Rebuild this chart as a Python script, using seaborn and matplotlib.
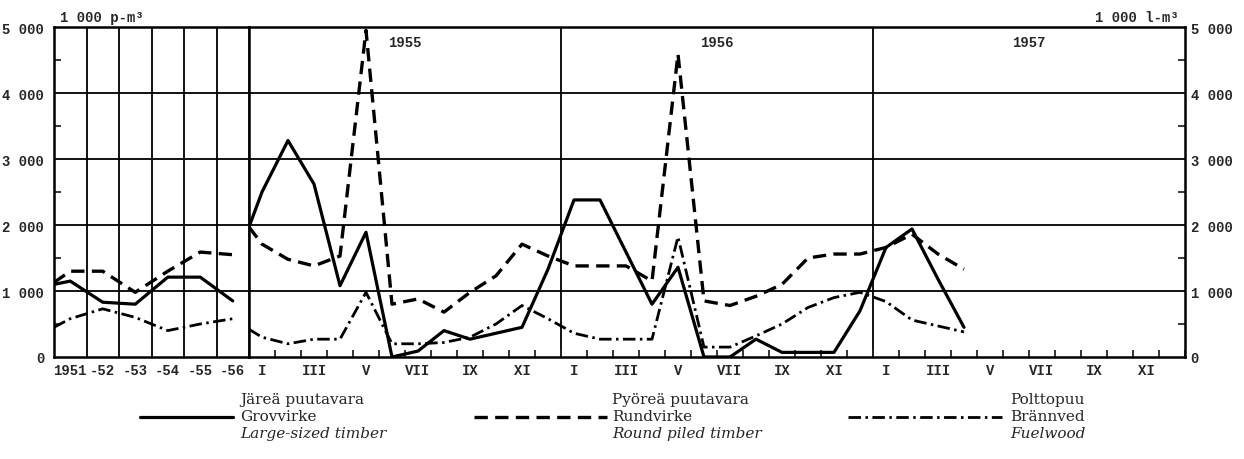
import numpy as np
import pandas as pd
import seaborn as sns
import matplotlib.pyplot as plt
from matplotlib.lines import Line2D
from matplotlib.ticker import FixedLocator, MultipleLocator

sns.set_theme(style="white")
plt.rcParams['font.family'] = ['Liberation Mono', 'DejaVu Sans Mono']

# annual values 1951-1956 (first value = where the line starts at the left edge)
year_labels = ['1951', '-52', '-53', '-54', '-55', '-56']
grov_year = [1100, 1150, 830, 800, 1210, 1210, 850]
rund_year = [1130, 1300, 1300, 980, 1300, 1590, 1550]
bran_year = [450, 580, 730, 600, 400, 500, 580]

# monthly values 1955 I - 1957 IV (first value = start at the 1955 boundary)
years = ['1955', '1956', '1957']
month_labels = ['I', '', 'III', '', 'V', '', 'VII', '', 'IX', '', 'XI', '']
grov_month = [1970,
              2500, 3280, 2620, 1080, 1890, 0, 90, 400, 270, 360, 450, 1330,
              2380, 2380, 1590, 800, 1360, 0, 0, 270, 70, 70, 70, 700,
              1660, 1940, 1180, 450]
rund_month = [1970,
              1710, 1480, 1380, 1530, 4950, 800, 880, 680, 980, 1230, 1710, 1530,
              1380, 1380, 1380, 1150, 4590, 850, 780, 920, 1100, 1500, 1560, 1560,
              1660, 1860, 1560, 1330]
bran_month = [420,
              300, 200, 270, 270, 980, 200, 200, 220, 300, 500, 780, 580,
              360, 270, 270, 270, 1820, 150, 150, 320, 500, 750, 900, 980,
              840, 560, 470, 380]

W, H = 1244, 460
fig = plt.figure(figsize=(W / 100, H / 100), dpi=100)
ax1 = fig.add_axes([54 / W, 102 / H, 195 / W, 330 / H])
ax2 = fig.add_axes([249 / W, 102 / H, 936 / W, 330 / H], sharey=ax1)

x_year = [0] + [i + 0.5 for i in range(len(year_labels))]
x_month = [0] + [i + 0.5 for i in range(len(grov_month) - 1)]
df_year = pd.DataFrame({'x': x_year, 'grov': grov_year, 'rund': rund_year, 'bran': bran_year})
df_month = pd.DataFrame({'x': x_month, 'grov': grov_month, 'rund': rund_month, 'bran': bran_month})

styles = {
    'grov': dict(ls='-', lw=2.3),
    'rund': dict(ls=(0, (4, 2.2)), lw=2.4),
    'bran': dict(ls=(0, (4.5, 1.6, 0.9, 1.6)), lw=2.0),
}

for ax, df in [(ax1, df_year), (ax2, df_month)]:
    for col, st in styles.items():
        sns.lineplot(data=df, x='x', y=col, ax=ax, color='black', **st)
    for v in [1000, 2000, 3000, 4000]:
        ax.axhline(v, color='black', lw=1.3, zorder=0)
    for sp in ax.spines.values():
        sp.set_color('black')
        sp.set_linewidth(1.8)
    ax.set_xlabel('')
    ax.set_ylabel('')

ax1.set_xlim(0, len(year_labels))
ax1.set_ylim(0, 5000)
ax2.set_xlim(0, 36)

# annual panel
for v in range(1, len(year_labels)):
    ax1.axvline(v, color='black', lw=1.3, zorder=0)
ax1.set_xticks([i + 0.5 for i in range(len(year_labels))])
ax1.set_xticklabels(year_labels)
ax1.set_yticks([0, 1000, 2000, 3000, 4000, 5000])
ax1.set_yticklabels(['0', '1 000', '2 000', '3 000', '4 000', '5 000'])
ax1.yaxis.set_minor_locator(FixedLocator([500, 1500, 2500, 3500, 4500]))
ax1.tick_params(axis='x', length=0, pad=4, labelsize=10)
ax1.tick_params(axis='y', which='major', length=0, pad=7, labelsize=10)
ax1.tick_params(axis='y', which='minor', direction='in', length=5, width=1.3, left=True)
for t in ax1.get_xticklabels() + ax1.get_yticklabels():
    t.set_fontweight('bold')

# monthly panel
for v in [12, 24]:
    ax2.axvline(v, color='black', lw=1.3, zorder=0)
ax2.set_xticks([i + 0.5 for i in range(36)])
ax2.set_xticklabels(month_labels * 3)
ax2.xaxis.set_minor_locator(MultipleLocator(1))
ax2.tick_params(axis='x', which='major', length=0, pad=4, labelsize=10)
ax2.tick_params(axis='x', which='minor', direction='in', length=5, width=1.3, bottom=True)
ax2.tick_params(axis='y', which='major', left=False, right=False, labelleft=False,
                labelright=True, length=0, pad=4, labelsize=10)
ax2.tick_params(axis='y', which='minor', direction='in', length=5, width=1.3,
                left=False, right=True)
for t in ax2.get_xticklabels() + ax2.get_yticklabels():
    t.set_fontweight('bold')

for i, yr in enumerate(years):
    ax2.text(12 * i + 6, 4770, yr, ha='center', va='center', fontsize=10, fontweight='bold')

ax1.text(0.03, 1.01, '1 000 p-m³', transform=ax1.transAxes, ha='left', va='bottom',
         fontsize=10, fontweight='bold')
ax2.text(0.993, 1.01, '1 000 l-m³', transform=ax2.transAxes, ha='right', va='bottom',
         fontsize=10, fontweight='bold')

# legend below the chart
def fy(py):
    return 1 - py / H

legend_items = [
    (140, 233, 240, styles['grov'], 'Järeä puutavara', 'Grovvirke', 'Large-sized timber'),
    (474, 607, 612, styles['rund'], 'Pyöreä puutavara', 'Rundvirke', 'Round piled timber'),
    (848, 1002, 1010, styles['bran'], 'Polttopuu', 'Brännved', 'Fuelwood'),
]
for x0, x1, xt, st, fi, sv, en in legend_items:
    fig.add_artist(Line2D([x0 / W, x1 / W], [fy(418), fy(418)], color='black',
                          transform=fig.transFigure, **st))
    kw = dict(ha='left', va='center', fontsize=11, family=['DejaVu Serif'])
    fig.text(xt / W, fy(400), fi, **kw)
    fig.text(xt / W, fy(417), sv, **kw)
    fig.text(xt / W, fy(434), en, style='italic', **kw)

fig.savefig('out.png', dpi=100)
